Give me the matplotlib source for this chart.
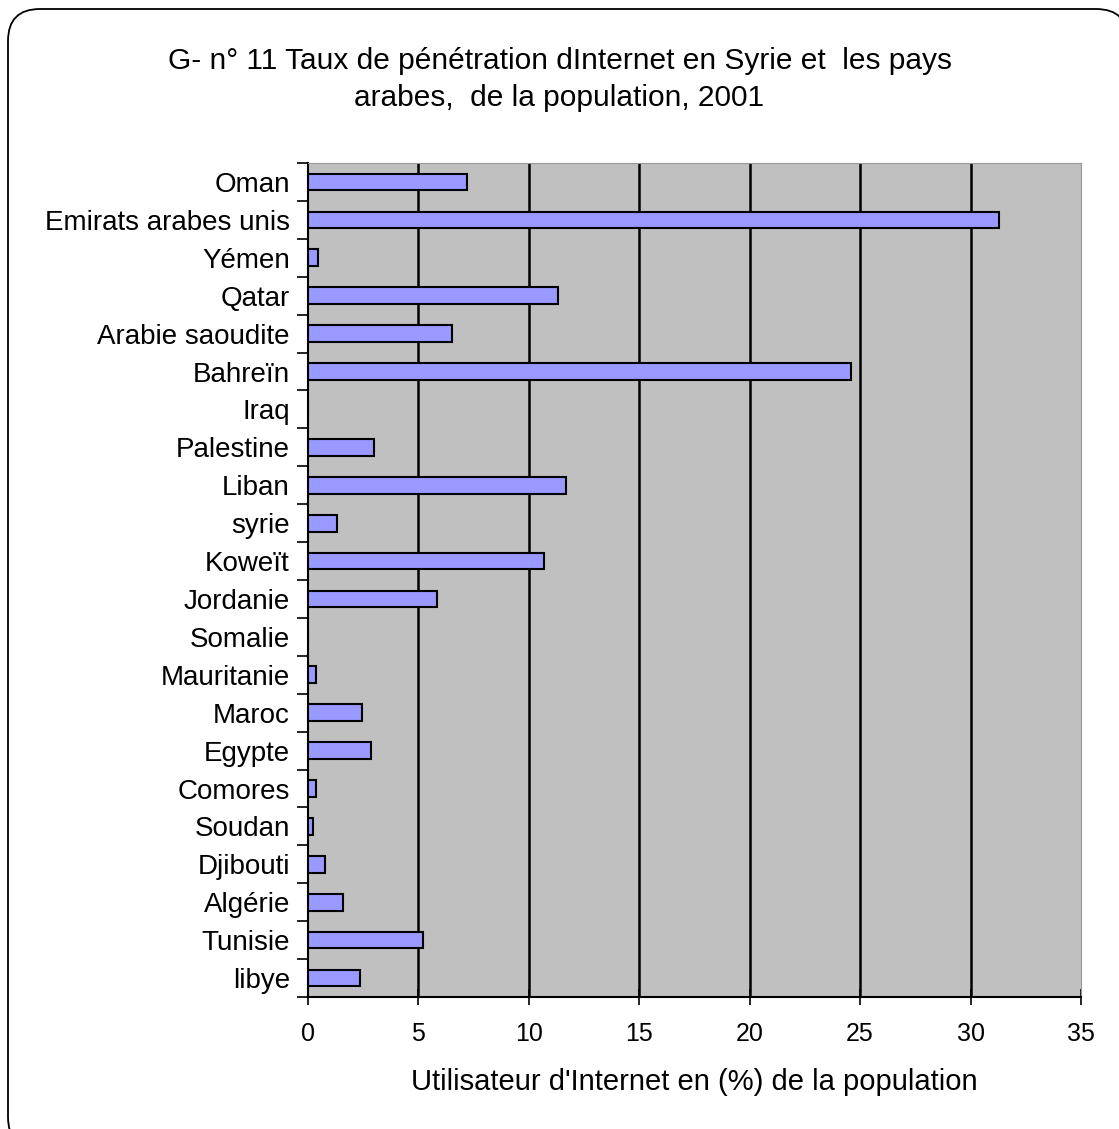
import matplotlib.pyplot as plt
import numpy as np
from matplotlib.patches import FancyBboxPatch

plt.rcParams['font.family'] = ['Liberation Sans', 'DejaVu Sans']

pays = ["Oman", "Emirats arabes unis", "Yémen", "Qatar", "Arabie saoudite",
        "Bahreïn", "Iraq", "Palestine", "Liban", "syrie", "Koweït", "Jordanie",
        "Somalie", "Mauritanie", "Maroc", "Egypte", "Comores", "Soudan",
        "Djibouti", "Algérie", "Tunisie", "libye"]
taux = [7.2, 31.3, 0.45, 11.3, 6.5, 24.6, 0.0, 3.0, 11.7, 1.3, 10.7, 5.85,
        0.0, 0.35, 2.45, 2.85, 0.35, 0.25, 0.75, 1.6, 5.2, 2.35]
xticks = [0, 5, 10, 15, 20, 25, 30, 35]

fig = plt.figure(figsize=(11.19, 11.29), dpi=100)

# rounded frame around the whole chart (inches), running a bit past the right and bottom edges;
# a filled face keeps agg from clipping the outline badly
frame = FancyBboxPatch((0.08, -0.20), 11.20, 11.40,
                       boxstyle="round,pad=0,rounding_size=0.32",
                       transform=fig.dpi_scale_trans, facecolor="white",
                       edgecolor="black", linewidth=1.3, zorder=-1)
fig.patches.append(frame)

ax = fig.add_axes([0.2752, 0.1169, 0.6908, 0.7387])
ax.set_facecolor("#C0C0C0")

y = np.arange(len(pays))
ax.barh(y, taux, height=0.44, color="#9999FF", edgecolor="black",
        linewidth=1.5, zorder=3)

ax.set_xlim(0, 35)
ax.set_ylim(len(pays) - 0.5, -0.5)

ax.set_xticks(xticks)
ax.set_xticklabels([str(t) for t in xticks], fontsize=18)
ax.tick_params(axis="x", direction="inout", length=12, width=1.2, pad=12)
ax.set_yticks(y)
ax.set_yticklabels(pays, fontsize=20)
ax.tick_params(axis="y", length=0, pad=13)
# y ticks sit between categories
ax.set_yticks(np.arange(len(pays) + 1) - 0.5, minor=True)
ax.tick_params(axis="y", which="minor", direction="out", length=8, width=1.2)

for v in xticks[1:-1]:
    ax.axvline(v, color="black", linewidth=1.8, zorder=2)

ax.spines["left"].set_linewidth(1.5)
ax.spines["bottom"].set_linewidth(1.5)
ax.spines["top"].set_color("#999999")
ax.spines["right"].set_color("#999999")

ax.set_xlabel("Utilisateur d'Internet en (%) de la population", fontsize=21,
              labelpad=16)

fig.text(0.5, 0.946, "G- n° 11 Taux de pénétration dInternet en Syrie et  les pays",
         ha="center", va="center", fontsize=21.5)
fig.text(0.5, 0.913, "arabes,  de la population, 2001", ha="center",
         va="center", fontsize=21.5)

fig.savefig("out.png", dpi=100)
